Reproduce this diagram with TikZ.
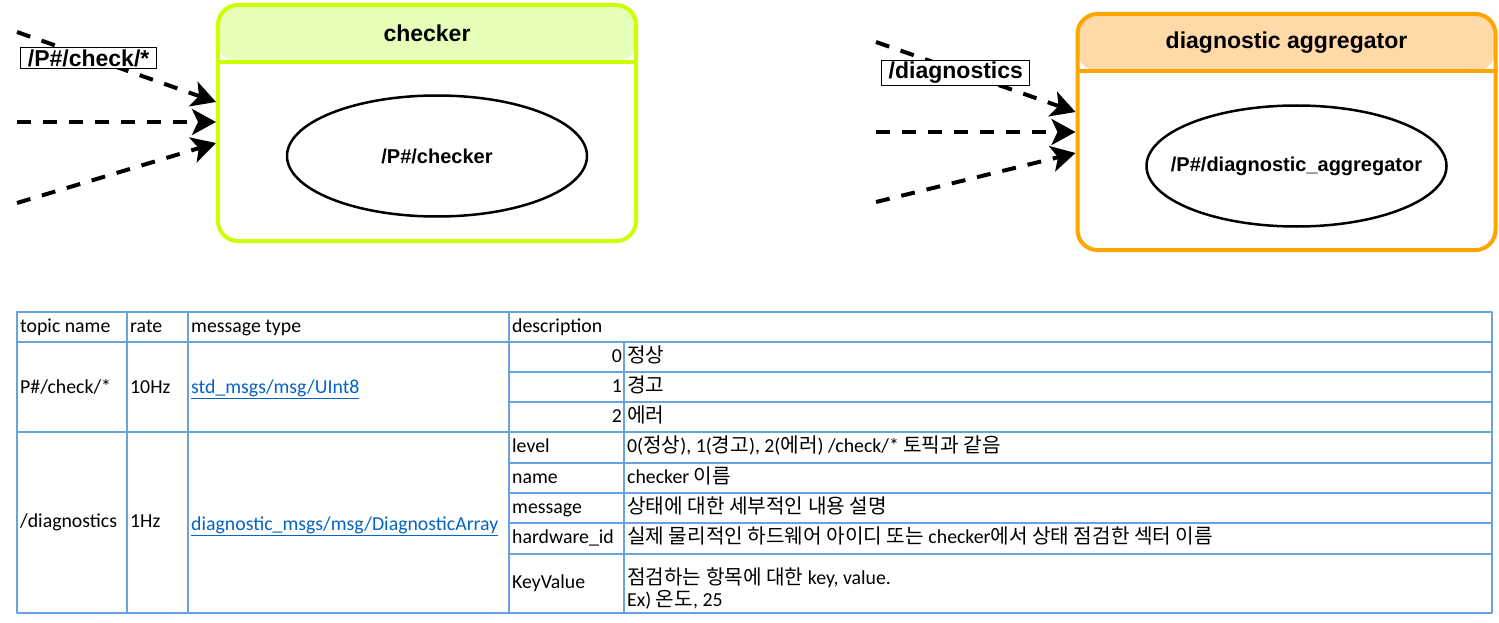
\documentclass[tikz,border=0pt]{standalone}
\usepackage{fontspec}
\setmainfont{Carlito}
\newfontfamily\drawfont{Liberation Sans}
\newfontfamily\krfont[Scale=1.02]{Noto Sans CJK KR}
\newcommand\hangul[1]{{\krfont #1}}
\newcommand\tabfont{\fontsize{19.8pt}{22pt}\selectfont}
\usetikzlibrary{arrows.meta,shapes.geometric}
\definecolor{chkline}{RGB}{204,255,0}
\definecolor{chkhead}{RGB}{230,255,185}
\definecolor{aggline}{RGB}{255,165,0}
\definecolor{agghead}{RGB}{255,218,168}
\definecolor{grid}{RGB}{105,162,222}
\definecolor{link}{RGB}{5,99,193}
\tikzset{
  nodebox/.style 2 args={draw=#1,line width=4pt,rounded corners=20pt,minimum width=418pt,minimum height=236pt,inner sep=0pt,
    path picture={\fill[#2] (path picture bounding box.north west) rectangle ([yshift=-57pt]path picture bounding box.north east);}},
  title/.style={inner sep=0pt,font={\drawfont\bfseries\fontsize{23pt}{27pt}\selectfont}},
  proc/.style={ellipse,draw,line width=2.5pt,minimum width=300pt,minimum height=121pt,inner sep=0pt,font={\drawfont\bfseries\fontsize{20pt}{24pt}\selectfont}},
  flow/.style={line width=4pt,dash pattern=on 14pt off 12pt,-{Stealth[length=24pt,width=26pt,inset=6pt]}},
  tag/.style={draw,fill=white,line width=1pt,inner xsep=7pt,inner ysep=2pt,font={\drawfont\bfseries\fontsize{23pt}{27pt}\selectfont}},
  cell/.style={anchor=west,inner sep=0pt,font=\tabfont,text height=14pt,text depth=4pt},
  note/.style={anchor=west,inner sep=0pt,font=\tabfont,align=left},
  grid/.style={draw=grid,line width=2pt}
}
\begin{document}
\begin{tikzpicture}[x=1pt,y=-1pt,line join=round]
\useasboundingbox (0,0) rectangle (1499,623);
\node[nodebox={chkline}{chkhead}] (chk) at (427,123) {};
\node[nodebox={aggline}{agghead}] (agg) at (1286.5,132) {};
\foreach \b/\c in {chk/chkline,agg/aggline}
  \draw[line width=4pt,\c] ([yshift=-59pt]\b.north west) -- ([yshift=-59pt]\b.north east);
\node[title] (chkname) at ([yshift=-30pt]chk.north) {checker};
\node[title] (aggname) at ([yshift=-30.5pt]agg.north) {diagnostic aggregator};
\node[proc] (chkproc) at ([xshift=10pt,yshift=-33pt]chk.center) {\makebox[0pt]{/P\#/checker}};
\node[proc] (aggproc) at ([xshift=10pt,yshift=-34pt]agg.center) {\makebox[0pt]{/P\#/diagnostic\_aggregator}};

\path (17,32) coordinate (cs1) (17,122) coordinate (cs2) (17,203) coordinate (cs3)
  (876,42) coordinate (as1) (876,132) coordinate (as2) (876,202) coordinate (as3);
\foreach \i/\d in {1/21,2/1,3/-20} \path ([yshift=\d pt]chk.west) coordinate (ct\i);
\foreach \i/\d in {1/20,2/0,3/-21} \path ([yshift=\d pt]agg.west) coordinate (at\i);
\foreach \i in {1,2,3}{
  \draw[flow] (cs\i) -- (ct\i);
  \draw[flow] (as\i) -- (at\i);
}
\path (cs1) -- (ct1) node[tag,pos=.36,yshift=-1pt] (chktopic) {/P\#/check/*};
\path (as1) -- (at1) node[tag,pos=.40,yshift=-3pt] (aggtopic) {/diagnostics};

\draw[grid] (17,312) rectangle (1492,613)
  (17,342) -- (1492,342) (17,432) -- (1492,432);
\foreach \x in {127,188,509} \draw[grid] (\x,312) -- (\x,613);
\draw[grid] (624,342) -- (624,613);
\foreach \y in {372,402,463,493,523,554} \draw[grid] (509,\y) -- (1492,\y);

\foreach \x/\t [count=\i] in {20/topic name,130/rate,191/message type,512/description}
  \node[cell] (head\i) at (\x,327) {\t};
\node[cell] (topic1) at (20,388) {P\#/check/*};
\node[cell] (rate1) at (130,388) {10Hz};
\node[cell,text=link] (type1) at (191,388) {\underline{std\_msgs/msg/UInt8}};
\foreach \v/\y/\t in {0/357/정상,1/387/경고,2/417/에러}{
  \node[cell,anchor=east] (val\v) at (622,\y) {\v};
  \node[cell] (state\v) at (627,\y) {\hangul{\t}};
}
\node[cell] (topic2) at (20,522.5) {/diagnostics};
\node[cell] (rate2) at (130,522.5) {1Hz};
\node[cell,text=link] (type2) at (191,525) {\underline{diagnostic\_msgs/msg/DiagnosticArray}};
\foreach \f/\y/\t [count=\i] in {level/447.5/{0(\hangul{정상}), 1(\hangul{경고}), 2(\hangul{에러}) /check/* \hangul{토픽과 같음}},
  name/478/{checker \hangul{이름}},
  message/508/{\hangul{상태에 대한 세부적인 내용 설명}},
  hardware\_id/538.5/{\hangul{실제 물리적인 하드웨어 아이디 또는} checker\hangul{에서 상태 점검한 섹터 이름}}}{
  \node[cell] (field\i) at (512,\y) {\f};
  \node[cell] (desc\i) at (627,\y) {\t};
}
\node[cell] (field5) at (512,583.5) {KeyValue};
\node[note] (desc5) at (627,588) {\hangul{점검하는 항목에 대한} key, value.\\Ex) \hangul{온도}, 25};
\end{tikzpicture}
\end{document}
